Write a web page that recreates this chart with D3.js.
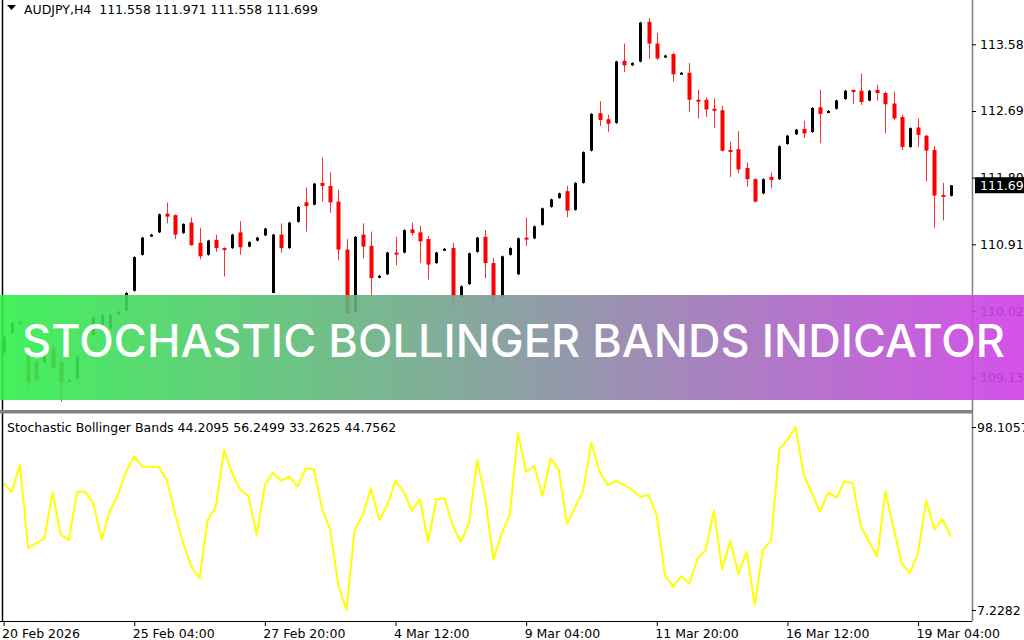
<!DOCTYPE html>
<html>
<head>
<meta charset="utf-8">
<title>Stochastic Bollinger Bands Indicator - AUDJPY H4</title>
<script src="https://d3js.org/d3.v7.min.js"></script>
<style>
  body { margin: 0; background: #fff; }
  svg { display: block; }
  .ax text { font-family: "DejaVu Sans", sans-serif; font-size: 12.5px; fill: #000; }
</style>
</head>
<body>
<div id="vis"></div>
<script>
// ---- data (AUDJPY H4, bars from 20 Feb 12:00 to 19 Mar) ----
var opens = [109.47,109.73,109.87,109.46,109.34,109.34,109.52,109.34,109.08,109.12,
  109.50,109.70,109.77,109.79,109.99,110.03,110.29,110.77,111.02,111.07,
  111.32,111.30,111.06,111.20,110.93,110.77,110.97,110.86,110.86,111.07,
  110.88,110.96,111.03,110.26,111.04,110.86,111.21,111.47,111.44,111.73,
  111.69,111.48,110.84,110.01,111.04,110.89,110.47,110.51,110.80,110.80,
  111.11,111.07,110.98,110.66,110.84,110.86,110.21,110.38,110.81,111.01,
  110.66,110.21,110.77,110.51,111.00,110.99,111.17,111.41,111.53,111.62,
  111.37,111.73,112.16,112.66,112.58,112.53,113.36,113.30,113.35,113.88,
  113.59,113.41,113.45,113.19,113.20,112.84,112.84,112.72,112.70,112.17,
  112.18,111.93,111.78,111.59,111.81,111.78,112.25,112.38,112.45,112.41,
  112.74,112.67,112.72,112.85,112.97,112.96,112.83,112.97,112.93,112.79,
  112.61,112.21,112.47,112.36,112.17,111.57,111.558];
var highs = [109.69,109.88,109.90,109.53,109.37,109.45,109.57,109.36,109.11,109.42,
  109.69,109.95,109.98,109.98,110.02,110.27,110.75,111.01,111.05,111.32,
  111.47,111.31,111.19,111.27,111.13,110.97,111.04,110.87,111.05,111.22,
  110.95,111.01,111.13,111.05,111.19,111.21,111.42,111.67,111.73,112.07,
  111.87,111.64,110.98,111.02,111.19,111.08,110.50,110.81,111.01,111.11,
  111.20,111.16,111.02,110.81,110.86,110.93,110.36,110.80,111.01,111.10,
  110.73,110.76,110.87,111.00,111.27,111.16,111.40,111.52,111.60,111.69,
  111.74,112.15,112.66,112.82,112.64,113.36,113.59,113.34,113.88,113.93,
  113.73,113.44,113.47,113.21,113.33,112.97,112.87,112.86,112.76,112.28,
  112.42,112.00,111.79,111.79,111.87,112.23,112.37,112.45,112.56,112.74,
  112.97,112.70,112.84,112.97,112.98,113.19,112.97,113.04,112.95,112.95,
  112.64,112.47,112.59,112.37,112.22,111.73,111.70];
var lows = [109.45,109.71,109.83,108.99,109.08,109.32,109.23,108.81,109.07,109.11,
  109.49,109.69,109.76,109.78,109.98,110.02,110.28,110.76,111.01,111.06,
  111.19,110.98,111.05,110.89,110.71,110.76,110.81,110.48,110.85,110.77,
  110.87,110.95,111.02,110.26,110.80,110.85,111.20,111.08,111.43,111.48,
  111.33,110.70,109.99,110.00,110.72,110.19,110.46,110.50,110.63,110.79,
  111.03,110.66,110.44,110.65,110.83,110.06,110.20,110.37,110.80,110.46,
  110.10,110.20,110.76,110.50,110.89,110.98,111.16,111.40,111.52,111.27,
  111.36,111.72,112.15,112.49,112.41,112.52,113.21,113.29,113.34,113.39,
  113.37,113.40,113.08,113.18,112.68,112.59,112.61,112.46,112.15,111.81,
  111.86,111.68,111.47,111.58,111.66,111.77,112.24,112.37,112.33,112.40,
  112.26,112.66,112.71,112.84,112.78,112.77,112.82,112.83,112.39,112.57,
  112.17,112.20,112.21,111.75,111.13,111.23,111.55];
var closes = [109.67,109.86,109.85,109.07,109.10,109.43,109.26,109.06,109.10,109.41,
  109.68,109.94,109.97,109.97,110.01,110.26,110.74,111.00,111.04,111.31,
  111.28,111.04,111.18,110.90,110.75,110.96,110.86,110.85,111.04,110.87,
  110.94,111.00,111.12,111.04,110.86,111.20,111.41,111.42,111.72,111.69,
  111.47,110.84,109.99,111.01,110.88,110.46,110.49,110.80,110.78,111.10,
  111.06,110.95,110.64,110.80,110.85,110.22,110.35,110.79,111.00,110.66,
  110.21,110.75,110.86,110.99,110.98,111.15,111.39,111.51,111.59,111.36,
  111.73,112.14,112.65,112.57,112.52,113.35,113.30,113.33,113.87,113.59,
  113.39,113.43,113.18,113.20,112.84,112.83,112.71,112.71,112.16,112.16,
  111.91,111.78,111.48,111.78,111.77,112.22,112.36,112.44,112.39,112.73,
  112.65,112.69,112.83,112.96,112.96,112.81,112.96,112.93,112.78,112.59,
  112.21,112.46,112.37,112.16,111.56,111.55,111.699];

var stoch = [70.1,66.0,79.2,37.9,40.4,42.8,65.5,44.5,42.0,66.0,
  66.0,60.2,42.3,56.0,64.3,75.9,83.4,78.4,78.4,78.4,
  71.8,55.2,40.4,28.7,23.0,51.9,58.5,86.7,75.1,66.8,
  63.8,44.5,69.3,75.4,71.4,73.4,68.5,77.6,77.1,57.7,
  47.0,19.6,7.2282,47.0,54.4,67.7,51.9,59.4,71.4,66.0,
  56.5,62.2,41.1,62.2,62.7,49.4,41.1,50.3,81.7,62.7,
  32.1,45.3,54.4,95.0,75.9,78.7,63.8,82.6,76.8,49.9,
  58.2,66.8,90.3,75.9,69.3,71.4,69.3,66.8,63.5,64.3,
  54.4,24.4,18.8,24.1,20.5,32.9,37.0,56.5,27.4,41.6,
  25.1,36.2,9.7,37.0,42.0,87.0,91.7,98.1057,74.3,65.2,
  56.0,65.5,63.2,71.3,70.1,48.9,41.1,33.7,66.0,47.8,
  30.4,25.5,35.4,61.5,47.3,52.3,43.6];

var timeTickBars = [0, 16, 32, 48, 64, 80, 96, 112];
var timeTickLabels = ["20 Feb 2026", "25 Feb 04:00", "27 Feb 20:00", "4 Mar 12:00",
  "9 Mar 04:00", "11 Mar 20:00", "16 Mar 12:00", "19 Mar 04:00"];
var priceTicks = [113.58, 112.69, 111.80, 110.91, 110.02, 109.13];
var stochTicks = [98.1057, 7.2282];
var lastPrice = 111.699;
var lastPriceLabel = "111.69";
var headerText = "AUDJPY,H4  111.558 111.971 111.558 111.699";
var stochTitle = "Stochastic Bollinger Bands 44.2095 56.2499 33.2625 44.7562";
var bannerText = "STOCHASTIC BOLLINGER BANDS INDICATOR";

// ---- layout ----
var W = 1024, H = 640;
var axisX = 972;
var topPanelBottom = 410;
var lowPanelBottom = 621;

var svg = d3.select("#vis").append("svg")
  .attr("width", W).attr("height", H)
  .style("background", "#fff");

var x = d3.scaleLinear().domain([0, opens.length - 1]).range([3.6, 950.7]);
var yPrice = d3.scaleLinear().domain([109.13, 113.58]).range([377.7, 44.3]);
var yStoch = d3.scaleLinear().domain([7.2282, 98.1057]).range([610, 427]);

svg.append("clipPath").attr("id", "topClip")
  .append("rect").attr("x", 3).attr("y", 0).attr("width", axisX - 3).attr("height", topPanelBottom);
svg.append("clipPath").attr("id", "lowClip")
  .append("rect").attr("x", 3).attr("y", 414).attr("width", axisX - 3).attr("height", lowPanelBottom - 414);

// ---- candles ----
var bars = d3.range(opens.length).map(function(i) {
  return { i: i, o: opens[i], h: highs[i], l: lows[i], c: closes[i] };
});

var cg = svg.append("g").attr("clip-path", "url(#topClip)");

cg.selectAll(".wick").data(bars).enter().append("line")
  .attr("class", "wick")
  .attr("x1", function(d) { return Math.round(x(d.i)) + 0.5; })
  .attr("x2", function(d) { return Math.round(x(d.i)) + 0.5; })
  .attr("y1", function(d) { return yPrice(d.h); })
  .attr("y2", function(d) { return yPrice(d.l); })
  .attr("stroke", function(d) { return d.c >= d.o ? "#000" : "#ff3030"; })
  .attr("stroke-width", 1);

cg.selectAll(".body").data(bars).enter().append("rect")
  .attr("class", "body")
  .attr("x", function(d) { return Math.round(x(d.i)) + 0.5 - (d.c >= d.o ? 1.5 : 2); })
  .attr("width", function(d) { return d.c >= d.o ? 3 : 4; })
  .attr("y", function(d) { return yPrice(Math.max(d.o, d.c)); })
  .attr("height", function(d) { return Math.max(2, Math.abs(yPrice(d.o) - yPrice(d.c))); })
  .attr("fill", function(d) { return d.c >= d.o ? "#000" : "#ff0000"; });

// ---- stochastic line ----
var line = d3.line()
  .x(function(d, i) { return x(i); })
  .y(function(d) { return yStoch(d); });

svg.append("g").attr("clip-path", "url(#lowClip)")
  .append("path")
  .datum(stoch)
  .attr("d", line)
  .attr("fill", "none")
  .attr("stroke", "#ffff00")
  .attr("stroke-width", 2)
  .attr("stroke-linejoin", "round");

// ---- frame ----
svg.append("line").attr("x1", 2.5).attr("x2", 2.5).attr("y1", 0).attr("y2", lowPanelBottom)
  .attr("stroke", "#000").attr("stroke-width", 1.5);
svg.append("rect").attr("x", 0).attr("y", topPanelBottom).attr("width", axisX).attr("height", 3.5)
  .attr("fill", "#808080");
svg.append("line").attr("x1", 0).attr("x2", axisX).attr("y1", lowPanelBottom + 0.5).attr("y2", lowPanelBottom + 0.5)
  .attr("stroke", "#000").attr("stroke-width", 1);
svg.append("line").attr("x1", axisX + 0.5).attr("x2", axisX + 0.5).attr("y1", 0).attr("y2", lowPanelBottom)
  .attr("stroke", "#808080").attr("stroke-width", 1.5);

// ---- axes ----
var priceAxis = d3.axisRight(yPrice)
  .tickValues(priceTicks)
  .tickSize(4)
  .tickPadding(4)
  .tickFormat(d3.format(".2f"));
svg.append("g").attr("class", "ax")
  .attr("transform", "translate(" + axisX + ",0)")
  .call(priceAxis)
  .call(function(g) { g.select(".domain").remove(); });

var stochAxis = d3.axisRight(yStoch)
  .tickValues(stochTicks)
  .tickSize(4)
  .tickPadding(1)
  .tickFormat(d3.format(".4f"));
svg.append("g").attr("class", "ax")
  .attr("transform", "translate(" + axisX + ",0)")
  .call(stochAxis)
  .call(function(g) { g.select(".domain").remove(); });

var timeAxis = d3.axisBottom(x)
  .tickValues(timeTickBars)
  .tickSize(5)
  .tickFormat(function(d, i) { return timeTickLabels[i]; });
var tg = svg.append("g").attr("class", "ax")
  .attr("transform", "translate(0," + lowPanelBottom + ")")
  .call(timeAxis)
  .call(function(g) { g.select(".domain").remove(); });
tg.selectAll("text").attr("text-anchor", "start").attr("dx", "-2px").attr("y", 8);

// current price box
var lp = yPrice(lastPrice);
svg.append("rect").attr("x", axisX + 3).attr("y", lp - 8).attr("width", W - axisX - 3).attr("height", 16)
  .attr("fill", "#000");
svg.append("text").attr("x", axisX + 8).attr("y", lp).attr("dy", "0.36em")
  .attr("font-family", "DejaVu Sans").attr("font-size", "12.5px").attr("fill", "#fff")
  .text(lastPriceLabel);

// ---- headers ----
svg.append("path").attr("d", "M7,5 L16,5 L11.5,10 Z").attr("fill", "#000");
svg.append("text").attr("x", 24).attr("y", 14)
  .attr("font-family", "DejaVu Sans").attr("font-size", "12.5px").attr("fill", "#000")
  .attr("xml:space", "preserve")
  .text(headerText);
svg.append("text").attr("x", 7).attr("y", 432)
  .attr("font-family", "DejaVu Sans").attr("font-size", "12.5px").attr("fill", "#000")
  .text(stochTitle);

// ---- banner ----
var grad = svg.append("defs").append("linearGradient").attr("id", "bannerGrad")
  .attr("x1", "0%").attr("x2", "100%").attr("y1", "0%").attr("y2", "0%");
grad.append("stop").attr("offset", "0%").attr("stop-color", "#2ef04a");
grad.append("stop").attr("offset", "100%").attr("stop-color", "#d03ee8");

svg.append("rect").attr("x", 0).attr("y", 295).attr("width", W).attr("height", 105)
  .attr("fill", "url(#bannerGrad)").attr("opacity", 0.9);
svg.append("text").attr("x", 22).attr("y", 357)
  .attr("font-family", "Inter, 'Open Sans', sans-serif").attr("font-weight", 500)
  .attr("font-size", "45px").attr("fill", "#fff")
  .attr("textLength", 983).attr("lengthAdjust", "spacing")
  .text(bannerText);
</script>
</body>
</html>
